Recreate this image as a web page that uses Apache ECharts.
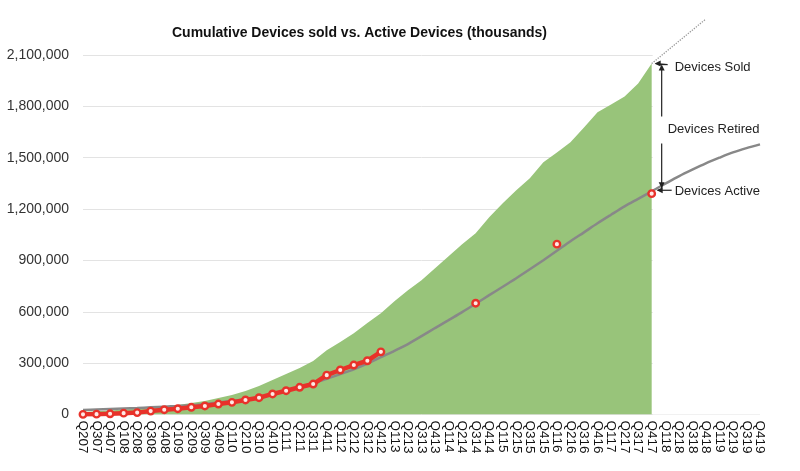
<!DOCTYPE html>
<html>
<head>
<meta charset="utf-8">
<script src="https://cdn.jsdelivr.net/npm/echarts@6/dist/echarts.min.js"></script>
<style>html,body{margin:0;padding:0;background:#fff}#c{width:800px;height:471px}</style>
</head>
<body>
<div id="c"></div>
<script>
const categories = ['Q207','Q307','Q407','Q108','Q208','Q308','Q408','Q109','Q209','Q309','Q409','Q110','Q210','Q310','Q410','Q111','Q211','Q311','Q411','Q112','Q212','Q312','Q412','Q113','Q213','Q313','Q413','Q114','Q214','Q314','Q414','Q115','Q215','Q315','Q415','Q116','Q216','Q316','Q416','Q117','Q217','Q317','Q417','Q118','Q218','Q318','Q418','Q119','Q219','Q319','Q419'];

const devicesSold = [15000,19000,24000,29000,34000,40000,47000,55000,67000,79000,96000,114000,137000,166000,201000,236000,271000,312000,376000,423000,475000,534000,592000,662000,726000,784000,855000,925000,995000,1059000,1152000,1234000,1310000,1380000,1473000,1531000,1590000,1677000,1765000,1811000,1858000,1934000,2050000,null,null,null,null,null,null,null,null];

const devicesSoldProjection = [null,null,null,null,null,null,null,null,null,null,null,null,null,null,null,null,null,null,null,null,null,null,null,null,null,null,null,null,null,null,null,null,null,null,null,null,null,null,null,null,null,null,2050000,2115000,2180000,2245000,2310000,null,null,null,null];

const devicesActive = [26000,29000,32000,35000,38000,42000,46000,50000,55000,62000,70000,79000,89000,101000,117000,137000,159000,184000,209000,236000,264000,297000,335000,372000,411000,458000,505000,551000,598000,647000,697000,746000,796000,848000,901000,956000,1012000,1064000,1117000,1167000,1216000,1260000,1304000,1348000,1391000,1430000,1467000,1500000,1531000,1556000,1578000];

const activeReported = [1000,2000,4000,8000,11000,20000,28000,34000,42000,50000,61000,71000,85000,98000,120000,139000,159000,178000,230000,260000,289000,314000,366000,null,null,null,null,null,null,650000,null,null,null,null,null,995000,null,null,null,null,null,null,1290000,null,null,null,null,null,null,null,null];

const yTicks = [0,300000,600000,900000,1200000,1500000,1800000,2100000];
const lastSoldIndex = 42;

const FONT = '"Liberation Sans", Arial, Helvetica, sans-serif';
const chart = echarts.init(document.getElementById('c'), null, {renderer:'canvas'});

const option = {
  animation: false,
  backgroundColor: '#fff',
  title: {
    text: 'Cumulative Devices sold vs. Active Devices (thousands)',
    left: 167, top: 21,
    textStyle: {fontFamily: FONT, fontSize: 14, fontWeight: 'bold', color: '#111'}
  },
  grid: {left: 83, right: 40, top: 55, bottom: 56.5, containLabel: false},
  xAxis: {
    type: 'category', data: categories, boundaryGap: false,
    axisLine: {show: false}, axisTick: {show: false},
    axisLabel: {interval: 0, rotate: -90, margin: 6, fontFamily: FONT, fontSize: 13.5, color: '#111'},
    splitLine: {show: false}
  },
  yAxis: {
    type: 'value', min: yTicks[0], max: yTicks[yTicks.length-1], interval: 300000,
    axisLine: {show: false}, axisTick: {show: false},
    axisLabel: {margin: 14, fontFamily: FONT, fontSize: 14, color: '#333',
      formatter: v => v.toLocaleString('en-US')},
    splitLine: {lineStyle: {color: '#e3e3e3', width: 1}}
  },
  series: [
    {
      name: 'Devices Sold', type: 'line', data: devicesSold, z: 2,
      symbol: 'none', lineStyle: {width: 0}, areaStyle: {color: '#98c47a', opacity: 1},
      connectNulls: false
    },
    {
      name: 'Projection', type: 'line', data: devicesSoldProjection, z: 3, clip: false,
      symbol: 'none', lineStyle: {color: '#9a9a9a', width: 1.3, type: 'dotted'}
    },
    {
      name: 'Devices Active', type: 'line', data: devicesActive, z: 3, smooth: 0.3,
      symbol: 'none', lineStyle: {color: '#888888', width: 2.5}
    },
    {
      name: 'Active (reported)', type: 'line', data: activeReported, z: 4,
      connectNulls: false, showAllSymbol: true,
      symbol: 'circle', symbolSize: 6.5,
      itemStyle: {color: '#ffe9e6', borderColor: '#e8322a', borderWidth: 2.4},
      lineStyle: {color: '#e8322a', width: 4.5}
    }
  ]
};
chart.setOption(option);

// annotations positioned from data through the axes
const ps = chart.convertToPixel({xAxisIndex: 0, yAxisIndex: 0}, [categories[lastSoldIndex], devicesSold[lastSoldIndex]]);
const pa = chart.convertToPixel({xAxisIndex: 0, yAxisIndex: 0}, [categories[lastSoldIndex], devicesActive[lastSoldIndex]]);
const pTop = chart.convertToPixel({yAxisIndex: 0}, yTicks[yTicks.length-1]);
const pZero = chart.convertToPixel({yAxisIndex: 0}, 0);
const pEnd = chart.convertToPixel({xAxisIndex: 0}, categories[categories.length-1]);

const vx = ps[0] + 10;
const midY = (ps[1] + pa[1]) / 2 + 2;
const ink = '#222';
const lineStyle = {stroke: ink, lineWidth: 1.2};
const txt = (t, x, y) => ({type: 'text', z: 10, style: {text: t, x: x, y: y, fill: ink, font: '13px ' + FONT, textVerticalAlign: 'middle', verticalAlign: 'middle'}});

chart.setOption({
  graphic: [
    {type: 'rect', z: 1, silent: true, shape: {x: ps[0] + 1, y: pTop - 3, width: pEnd - ps[0] + 5, height: pZero - pTop + 3}, style: {fill: '#fff'}},
    {type: 'line', z: 10, shape: {x1: vx, y1: ps[1] + 3, x2: vx, y2: midY - 13}, style: lineStyle},
    {type: 'line', z: 10, shape: {x1: vx, y1: midY + 14, x2: vx, y2: pa[1] - 3}, style: lineStyle},
    {type: 'line', z: 10, shape: {x1: vx - 4, y1: ps[1] + 1, x2: vx + 4, y2: ps[1] + 1}, style: lineStyle},
    {type: 'polygon', z: 10, shape: {points: [[vx, ps[1] + 1], [vx - 3, ps[1] + 7], [vx + 3, ps[1] + 7]]}, style: {fill: ink}},
    {type: 'polygon', z: 10, shape: {points: [[vx, pa[1] - 3], [vx - 3, pa[1] - 9], [vx + 3, pa[1] - 9]]}, style: {fill: ink}},
    {type: 'line', z: 10, shape: {x1: ps[0] + 4, y1: ps[1], x2: ps[0] + 16, y2: ps[1] + 1}, style: lineStyle},
    {type: 'polygon', z: 10, shape: {points: [[ps[0] + 3, ps[1]], [ps[0] + 9, ps[1] - 3], [ps[0] + 9, ps[1] + 3]]}, style: {fill: ink}},
    {type: 'line', z: 10, shape: {x1: pa[0] + 6, y1: pa[1] - 1, x2: pa[0] + 20, y2: pa[1] - 1}, style: lineStyle},
    {type: 'polygon', z: 10, shape: {points: [[pa[0] + 5, pa[1] - 1], [pa[0] + 11, pa[1] - 4], [pa[0] + 11, pa[1] + 2]]}, style: {fill: ink}},
    txt('Devices Sold', ps[0] + 23, ps[1] + 4),
    txt('Devices Retired', vx + 6, midY),
    txt('Devices Active', pa[0] + 23, pa[1])
  ]
});
</script>
</body>
</html>
